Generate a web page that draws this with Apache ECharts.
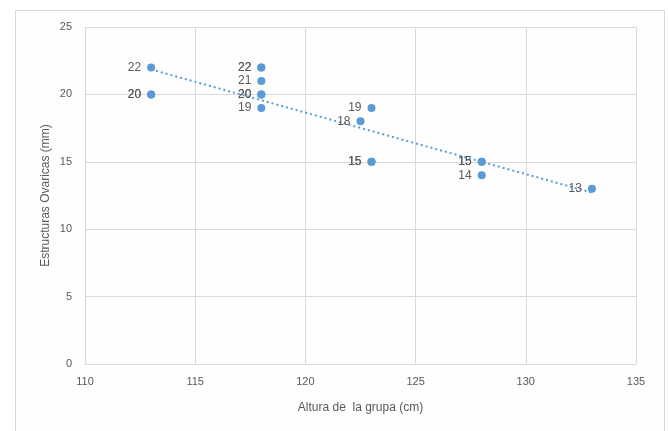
<!DOCTYPE html>
<html>
<head>
<meta charset="utf-8">
<script src="https://cdn.jsdelivr.net/npm/echarts@6/dist/echarts.min.js"></script>
<style>
html,body{margin:0;padding:0;background:#fff;}
#c{width:669px;height:431px;}
</style>
</head>
<body>
<div id="c"></div>
<script>
// Data (duplicated points overlap, as in the original)
var alturaX = [113, 113, 113, 118, 118, 118, 118, 118, 118, 122.5, 123, 123, 123, 128, 128, 128, 133];
var estructurasY = [22, 20, 20, 22, 22, 21, 20, 20, 19, 18, 19, 15, 15, 15, 15, 14, 13];
var xTicks = [110, 115, 120, 125, 130, 135];
var yTicks = [0, 5, 10, 15, 20, 25];
var xTitle = 'Altura de  la grupa (cm)';
var yTitle = 'Estructuras Ovaricas (mm)';

var points = alturaX.map(function (x, i) { return [x, estructurasY[i]]; });

// Linear trendline (least squares) over the data
var n = alturaX.length, sx = 0, sy = 0;
for (var i = 0; i < n; i++) { sx += alturaX[i]; sy += estructurasY[i]; }
var mx = sx / n, my = sy / n, sxx = 0, sxy = 0;
for (var i = 0; i < n; i++) { sxx += (alturaX[i] - mx) * (alturaX[i] - mx); sxy += (alturaX[i] - mx) * (estructurasY[i] - my); }
var slope = sxy / sxx, icpt = my - slope * mx;
var xmin = Math.min.apply(null, alturaX), xmax = Math.max.apply(null, alturaX);
var trend = [[xmin, icpt + slope * xmin], [xmax, icpt + slope * xmax]];

var font = 'Liberation Sans, Arial, sans-serif';
var chart = echarts.init(document.getElementById('c'), null, {renderer: 'canvas'});
chart.setOption({
  animation: false,
  backgroundColor: '#ffffff',
  graphic: [{
    type: 'rect', left: 15, top: 10, z: -10,
    shape: {width: 649, height: 430},
    style: {fill: '#fefefe', stroke: '#d9d9d9', lineWidth: 1}
  }],
  grid: {left: 85, right: 33, top: 27, bottom: 67, containLabel: false},
  xAxis: {
    type: 'value', min: xTicks[0], max: xTicks[xTicks.length - 1], interval: 5,
    name: xTitle, nameLocation: 'middle', nameGap: 38, nameMoveOverlap: false,
    nameTextStyle: {color: '#595959', fontSize: 12, fontFamily: font},
    axisLine: {show: true, lineStyle: {color: '#d9d9d9'}},
    axisTick: {show: false},
    axisLabel: {color: '#595959', fontSize: 11, fontFamily: font, margin: 12},
    splitLine: {show: true, lineStyle: {color: '#d9d9d9'}}
  },
  yAxis: {
    type: 'value', min: yTicks[0], max: yTicks[yTicks.length - 1], interval: 5,
    name: yTitle, nameLocation: 'middle', nameGap: 33, nameMoveOverlap: false,
    nameTextStyle: {color: '#595959', fontSize: 12, fontFamily: font},
    axisLine: {show: false},
    axisTick: {show: false},
    axisLabel: {color: '#595959', fontSize: 11, fontFamily: font, margin: 13},
    splitLine: {show: true, lineStyle: {color: '#d9d9d9'}}
  },
  series: [{
    type: 'line', data: trend, symbol: 'none', silent: true, z: 1,
    lineStyle: {color: '#5b9bd5', width: 2, type: [2, 3]}
  }, {
    type: 'scatter', data: points, symbol: 'circle', symbolSize: 8, z: 2,
    itemStyle: {color: '#5b9bd5', opacity: 1},
    label: {show: true, position: 'left', distance: 6, color: '#595959', fontSize: 12, fontFamily: font,
      formatter: function (p) { return p.value[1]; }}
  }]
});
</script>
</body>
</html>
